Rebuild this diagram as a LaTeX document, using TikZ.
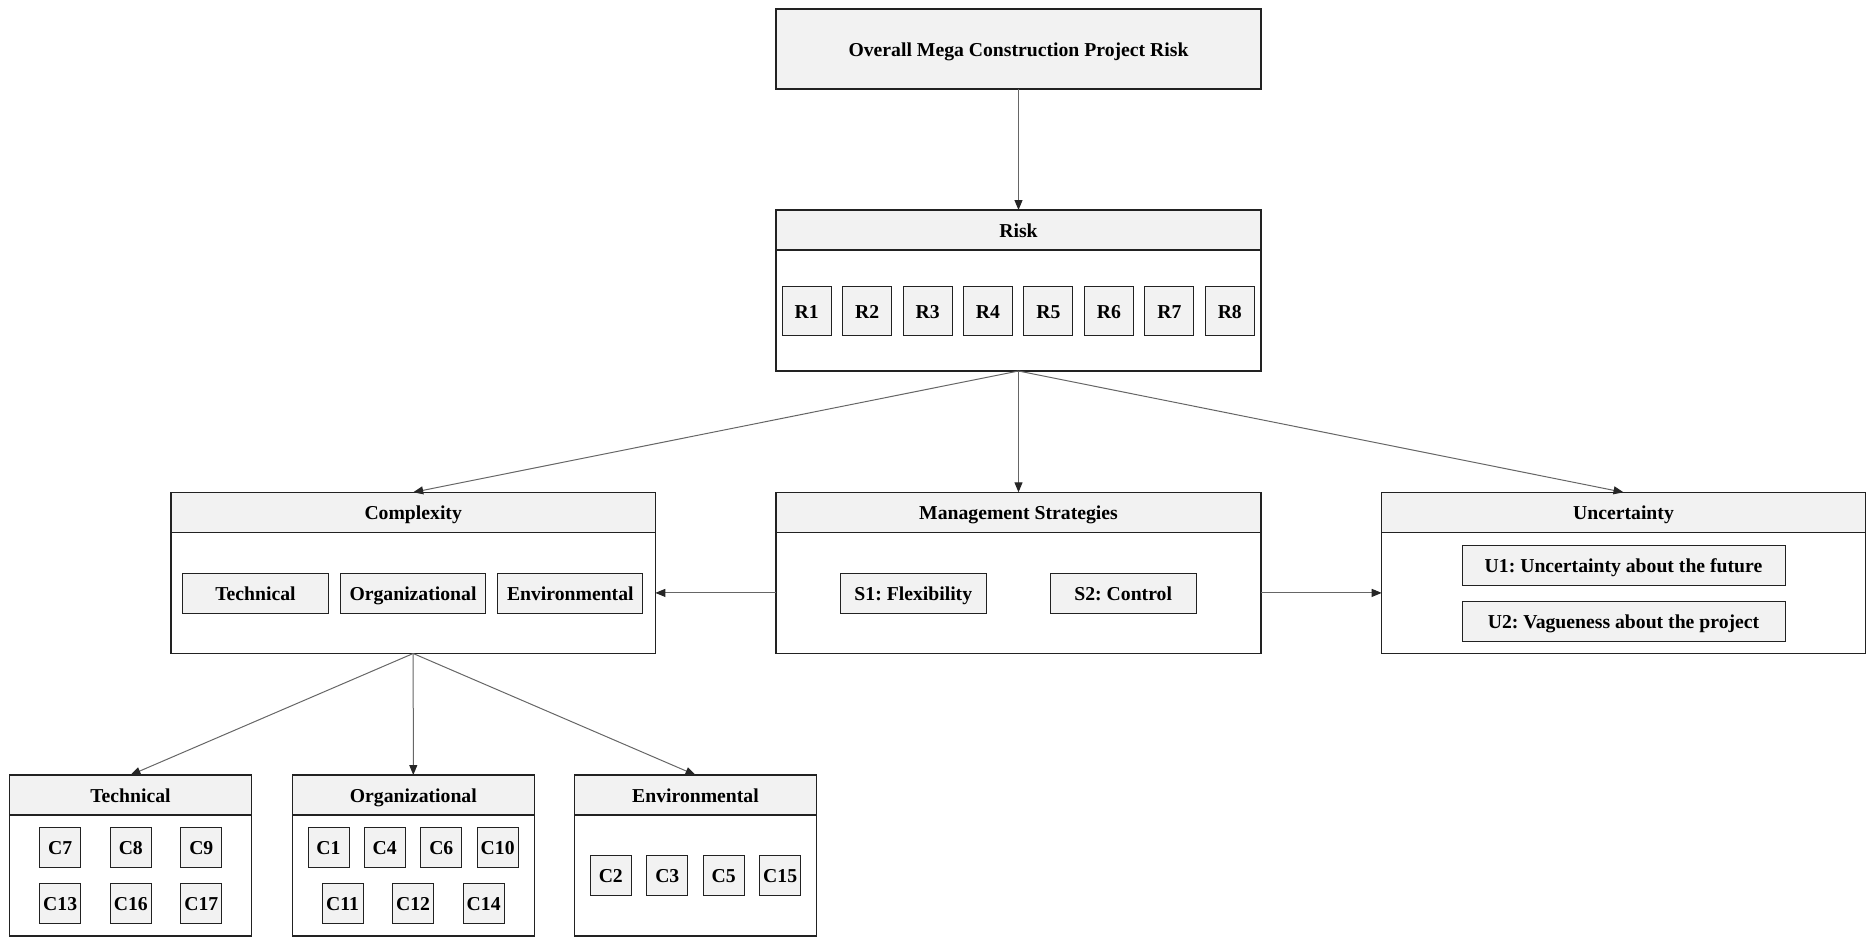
\documentclass[tikz,border=0pt]{standalone}
\usepackage{fontspec}
\setmainfont{Liberation Serif}
\usetikzlibrary{arrows.meta}
\definecolor{boxfill}{HTML}{F2F2F2}
\definecolor{edgecol}{HTML}{222222}
\definecolor{linkcol}{HTML}{666666}
\frenchspacing
\tikzset{
  every node/.style={font=\fontsize{19.7}{23}\selectfont\bfseries, inner sep=0pt, outer sep=0pt, text height=14.6pt, text depth=0pt},
  hdr/.style={draw=edgecol, line width=1.2pt, fill=boxfill, rectangle, minimum height=40pt},
  body/.style={draw=edgecol, line width=1.2pt, fill=white, rectangle},
  item/.style={draw=edgecol, line width=1pt, fill=boxfill, rectangle, minimum height=40.4pt},
  ritem/.style={item, minimum width=49pt, minimum height=48.5pt},
  citem/.style={item, minimum width=41pt},
  link/.style={draw=linkcol, line width=1pt, -{Triangle[length=10pt,width=8pt,color=black!85]}},
}
\begin{document}
\begin{tikzpicture}[x=1pt,y=-1pt]
\useasboundingbox (0,0) rectangle (1874,937);
% top
\node[hdr, minimum width=485pt, minimum height=80pt] (top) at (1018.5,49) {Overall Mega Construction Project Risk};
% risk
\node[hdr, minimum width=485pt] (riskh) at (1018.5,230) {Risk};
\node[body, minimum width=485pt, minimum height=121pt] (riskb) at (1018.5,310.5) {};
\foreach \i in {1,...,8}{
  \node[ritem] (r\i) at ({806.7+(\i-1)*60.44},311) {R\i};
}
% complexity
\node[hdr, minimum width=484.3pt] (cplxh) at (413.2,512.3) {Complexity};
\node[body, minimum width=484.3pt, minimum height=121.2pt] (cplxb) at (413.2,592.9) {};
\node[item, minimum width=145.6pt] (ctech) at (255.5,593.5) {Technical};
\node[item, minimum width=145.4pt] (corg) at (413,593.5) {Organizational};
\node[item, minimum width=145.3pt] (cenv) at (570.3,593.5) {Environmental};
% management
\node[hdr, minimum width=485pt] (mgmth) at (1018.5,512.3) {Management Strategies};
\node[body, minimum width=485pt, minimum height=121.2pt] (mgmtb) at (1018.5,592.9) {};
\node[item, minimum width=146pt] (s1) at (913.3,593.5) {S1: Flexibility};
\node[item, minimum width=145.7pt] (s2) at (1123.2,593.5) {S2: Control};
% uncertainty
\node[hdr, minimum width=483.6pt] (unch) at (1623.5,512.3) {Uncertainty};
\node[body, minimum width=483.6pt, minimum height=121.2pt] (uncb) at (1623.5,592.9) {};
\node[item, minimum width=323pt] (u1) at (1623.5,565.2) {U1: Uncertainty about the future};
\node[item, minimum width=323pt] (u2) at (1623.5,621.5) {U2: Vagueness about the project};
% technical
\node[hdr, minimum width=242.4pt] (techh) at (130.5,795) {Technical};
\node[body, minimum width=242.4pt, minimum height=121pt] (techb) at (130.5,875.5) {};
\node[citem] (c7) at (60.2,847.5) {C7};
\node[citem] (c8) at (130.8,847.5) {C8};
\node[citem] (c9) at (201.3,847.5) {C9};
\node[citem] (c13) at (60.2,903.3) {C13};
\node[citem] (c16) at (130.8,903.3) {C16};
\node[citem] (c17) at (201.3,903.3) {C17};
% organizational
\node[hdr, minimum width=242pt] (orgh) at (413.3,795) {Organizational};
\node[body, minimum width=242pt, minimum height=121pt] (orgb) at (413.3,875.5) {};
\node[citem] (c1) at (328.5,847.5) {C1};
\node[citem] (c4) at (384.7,847.5) {C4};
\node[citem] (c6) at (441.3,847.5) {C6};
\node[citem] (c10) at (497.7,847.5) {C10};
\node[citem] (c11) at (342.5,903.3) {C11};
\node[citem] (c12) at (413,903.3) {C12};
\node[citem] (c14) at (483.7,903.3) {C14};
% environmental
\node[hdr, minimum width=242.4pt] (envh) at (695.5,795) {Environmental};
\node[body, minimum width=242.4pt, minimum height=121pt] (envb) at (695.5,875.5) {};
\node[citem] (c2) at (610.8,875.5) {C2};
\node[citem] (c3) at (667.3,875.5) {C3};
\node[citem] (c5) at (723.7,875.5) {C5};
\node[citem] (c15) at (780.2,875.5) {C15};
% connectors
\draw[link] (top.south) -- (riskh.north);
\draw[link] (riskb.south) -- (cplxh.north);
\draw[link] (riskb.south) -- (mgmth.north);
\draw[link] (riskb.south) -- (unch.north);
\draw[link] (mgmtb.west) -- (cplxb.east);
\draw[link] (mgmtb.east) -- (uncb.west);
\draw[link] (cplxb.south) -- (techh.north);
\draw[link] (cplxb.south) -- (orgh.north);
\draw[link] (cplxb.south) -- (envh.north);
\end{tikzpicture}
\end{document}
